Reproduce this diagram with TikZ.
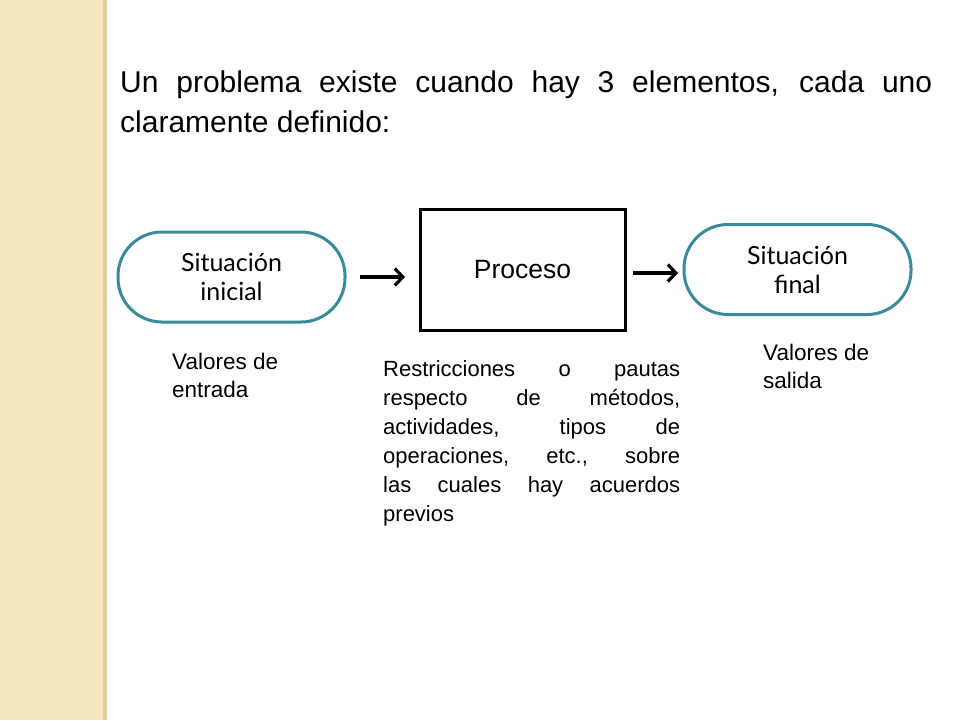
\documentclass[tikz,border=0pt]{standalone}
\usepackage{fontspec}
\setmainfont{Liberation Sans}
\newfontfamily\gill{Lato}
\usetikzlibrary{arrows.meta}
\definecolor{strip}{HTML}{F4E6BE}
\definecolor{stripedge}{HTML}{E2CF9C}
\definecolor{teal}{HTML}{3B8A9C}
\hyphenpenalty=10000
\tikzset{
  stad/.style={draw=teal,line width=3pt,rounded corners=44pt,fill=white,minimum width=227pt,minimum height=90pt,align=center,font=\gill\fontsize{25}{29}\selectfont},
  procbox/.style={draw=black,line width=3pt,minimum width=205pt,minimum height=121pt,font=\fontsize{26.5}{30}\selectfont},
  arr/.style={-{Straight Barb[length=8pt,width=17pt]},line width=3.2pt},
  lbl/.style={anchor=north west,align=left,font=\fontsize{22.5}{28}\selectfont}
}
\begin{document}
\begin{tikzpicture}[x=1pt,y=-1pt]
\useasboundingbox (0,0) rectangle (960,720);
\fill[white] (0,0) rectangle (960,720);
\fill[strip] (0,0) rectangle (103,720);
\fill[stripedge] (103,0) rectangle (107,720);
\node[anchor=north west,text width=812pt,align=justify,font=\fontsize{30}{40}\selectfont,inner sep=0pt] (title) at (120,71)
  {Un problema existe cuando hay 3 elementos, cada uno claramente definido:};
\node[stad] (ini) at (231.5,277) {Situación\\ inicial};
\node[procbox] (proc) at (522.5,269.5) {Proceso};
\node[stad] (fin) at (797.5,269.5) {Situación\\ final};
\coordinate (a1s) at (360,277); \coordinate (a1e) at (405,277);
\coordinate (a2s) at (633,273); \coordinate (a2e) at (678,273);
\draw[arr] (a1s) -- (a1e);
\draw[arr] (a2s) -- (a2e);
\node[lbl,inner sep=0pt] (ve) at (172,353) {Valores de\\ entrada};
\node[lbl,inner sep=0pt] (vs) at (763,344) {Valores de\\ salida};
\node[anchor=north west,inner sep=0pt,text width=297pt,align=justify,font=\fontsize{22}{29}\selectfont] (rest) at (383,360)
  {Restricciones o pautas respecto de métodos, actividades, tipos de operaciones, etc., sobre las cuales hay acuerdos\linebreak previos};
\end{tikzpicture}
\end{document}
